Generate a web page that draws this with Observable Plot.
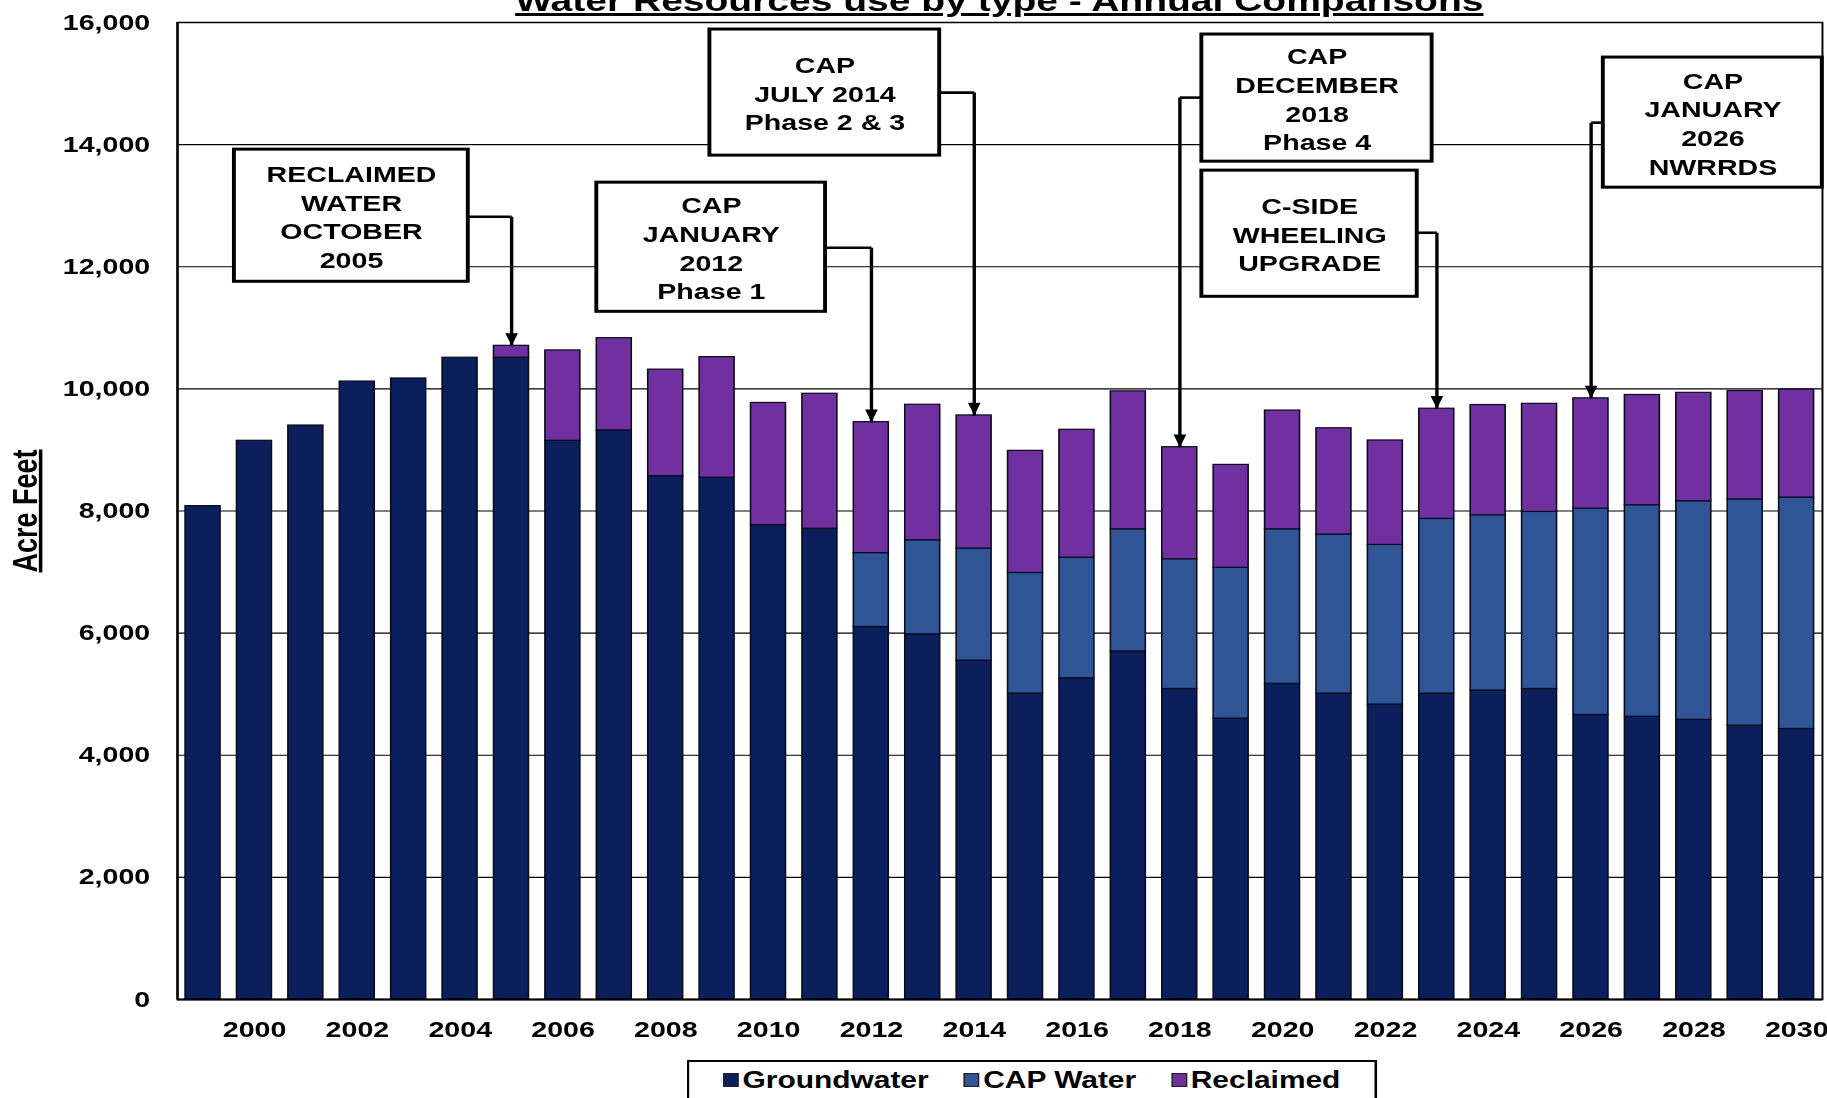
<!DOCTYPE html>
<html><head><meta charset="utf-8">
<script src="https://cdn.jsdelivr.net/npm/d3@7"></script>
<script src="https://cdn.jsdelivr.net/npm/@observablehq/plot@0.6"></script>
<style>
html,body{margin:0;padding:0;background:#fff;overflow:hidden;width:1827px;height:1098px}
#wrap{position:relative;width:1405px;height:1098px;transform:scaleX(1.30036);transform-origin:0 0;font-family:"Liberation Sans",Arial,sans-serif;color:#000}
#title{position:absolute;left:136px;width:1265px;top:-14px;text-align:center;font-weight:bold;font-size:30px;line-height:30px;text-decoration:underline;white-space:nowrap;z-index:2}
#chart{position:absolute;left:0;top:0}
#legend{position:absolute;left:528px;top:1060px;width:531px;height:52px;border:2px solid #000;box-sizing:border-box;display:flex;align-items:flex-start;padding:5px 0 0 26px;font-weight:bold;font-size:23px;line-height:26px;background:#fff;white-space:nowrap}
.item{display:flex;align-items:center;margin-right:27px;white-space:nowrap;flex:none}
.sw{width:12px;height:14px;margin-right:3px;border:1px solid #222;box-sizing:border-box;flex:none}
</style></head>
<body><div id="wrap"><div id="chart"></div><div id="title">Water Resources use by type - Annual Comparisons</div><div id="legend"></div></div>
<script>
const years = [1999,2000,2001,2002,2003,2004,2005,2006,2007,2008,2009,2010,2011,2012,2013,2014,2015,2016,2017,2018,2019,2020,2021,2022,2023,2024,2025,2026,2027,2028,2029,2030];
const groundwater = [8080,9150,9400,10120,10170,10510,10510,9150,9320,8570,8545,7770,7710,6100,5980,5550,5010,5260,5700,5085,4600,5170,5010,4830,5010,5060,5085,4660,4630,4580,4485,4430];
const capWater = [0,0,0,0,0,0,0,0,0,0,0,0,0,1210,1540,1835,1975,1975,2000,2125,2470,2530,2605,2615,2860,2870,2900,3380,3465,3580,3705,3790];
const reclaimed = [0,0,0,0,0,0,195,1480,1510,1745,1975,2000,2210,2145,2220,2180,2000,2095,2260,1835,1685,1945,1740,1710,1805,1805,1770,1805,1805,1775,1775,1770];
const seriesNames = ["Groundwater","CAP Water","Reclaimed"];
const seriesColors = ["#0a1f5c","#2f5597","#7030a0"];
const xTicks = [2000,2002,2004,2006,2008,2010,2012,2014,2016,2018,2020,2022,2024,2026,2028,2030];
const yTicks = [0,2000,4000,6000,8000,10000,12000,14000,16000];
const yLabel = "Acre Feet";
// annotation boxes, placed in data units (year, acre-feet)
const annotations = [
  {text:"RECLAIMED\nWATER\nOCTOBER\n2005", year:2005, x1:1999.61, x2:2004.16, y1:11754, y2:13918, elbow:12819, side:"right"},
  {text:"CAP\nJANUARY\n2012\nPhase 1", year:2012, x1:2006.66, x2:2011.11, y1:11262, y2:13377, elbow:12311, side:"right"},
  {text:"CAP\nJULY 2014\nPhase 2 & 3", year:2014, x1:2008.86, x2:2013.33, y1:13820, y2:15885, elbow:14852, side:"right"},
  {text:"CAP\nDECEMBER\n2018\nPhase 4", year:2018, x1:2018.43, x2:2022.91, y1:13721, y2:15803, elbow:14770, side:"left"},
  {text:"C-SIDE\nWHEELING\nUPGRADE", year:2023, x1:2018.43, x2:2022.62, y1:11508, y2:13574, elbow:12557, side:"right"},
  {text:"CAP\nJANUARY\n2026\nNWRRDS", year:2026, x1:2026.24, x2:2030.5, y1:13295, y2:15426, elbow:14360, side:"left"}
];

const rows = [];
years.forEach((yr, i) => {
  let base = 0;
  [groundwater[i], capWater[i], reclaimed[i]].forEach((v, k) => {
    if (v > 0) rows.push({year: yr, type: seriesNames[k], y1: base, y2: base + v});
    base += v;
  });
});
const totalOf = yr => { const i = years.indexOf(yr); return groundwater[i] + capWater[i] + reclaimed[i]; };
const hseg = annotations.map(a => ({x1: a.side === "right" ? a.x2 : a.x1, x2: a.year, y: a.elbow}));
const vseg = annotations.map(a => ({x: a.year, y1: a.elbow, y2: totalOf(a.year)}));
const tips = annotations.map(a => ({x: a.year, y: totalOf(a.year)}));
const downTriangle = {draw(ctx, size){ const s = Math.sqrt(size); ctx.moveTo(-0.5*s, -1.3*s); ctx.lineTo(0.5*s, -1.3*s); ctx.lineTo(0, 0); ctx.closePath(); }};

const font = '"Liberation Sans",Arial,sans-serif';
const chart = Plot.plot({
  width: 1405, height: 1040,
  marginLeft: 136, marginRight: 4, marginTop: 22, marginBottom: 41,
  style: {fontFamily: font, background: "white", overflow: "visible", color: "#000"},
  x: {type: "linear", domain: [1998.5, 2030.5]},
  y: {domain: [0, 16000]},
  color: {domain: seriesNames, range: seriesColors},
  marks: [
    Plot.gridY(yTicks, {stroke: "#000", strokeOpacity: 1, strokeWidth: 1.2}),
    Plot.rectY(rows, {x1: d => d.year - 0.34, x2: d => d.year + 0.34, y1: "y1", y2: "y2", fill: "type", stroke: "#0a0a1a", strokeWidth: 1.2}),
    Plot.frame({stroke: "#000", strokeWidth: 1.5}),
    Plot.ruleY([0], {stroke: "#000", strokeWidth: 2.2}),
    Plot.ruleX([1998.5], {stroke: "#000", strokeWidth: 1.8}),
    Plot.axisX(xTicks, {tickFormat: d => String(d), tickSize: 0, tickPadding: 22, fontSize: 22, fontWeight: "bold", label: null}),
    Plot.axisY(yTicks, {tickFormat: d3.format(","), tickSize: 0, tickPadding: 21, fontSize: 22, fontWeight: "bold", label: null}),
    Plot.link(hseg, {x1: "x1", x2: "x2", y1: "y", y2: "y", stroke: "#000", strokeWidth: 2.6}),
    Plot.link(vseg, {x1: "x", x2: "x", y1: "y1", y2: "y2", stroke: "#000", strokeWidth: 2.6}),
    Plot.dot(tips, {x: "x", y: "y", symbol: downTriangle, r: 5.5, fill: "#000", stroke: "none"}),
    Plot.rect(annotations, {x1: "x1", x2: "x2", y1: "y1", y2: "y2", fill: "white", stroke: "#000", strokeWidth: 3}),
    Plot.text(annotations, {x: d => (d.x1 + d.x2) / 2, y: d => (d.y1 + d.y2) / 2, text: "text", lineHeight: 1.3, fontSize: 22, fontWeight: "bold", fill: "#000"}),
    Plot.text([yLabel], {text: d => d, frameAnchor: "left", textAnchor: "middle", dx: -117, rotate: -90, fontSize: 27, fontWeight: "bold", fill: "#000"})
  ]
});
document.getElementById("chart").append(chart);
d3.select(chart).selectAll("text").filter(function(){ return this.textContent === yLabel; }).style("text-decoration", "underline");

const legend = d3.select("#legend");
seriesNames.forEach((name, k) => {
  const it = legend.append("div").attr("class", "item");
  it.append("div").attr("class", "sw").style("background", seriesColors[k]);
  it.append("span").text(name);
});
</script>
</body></html>
